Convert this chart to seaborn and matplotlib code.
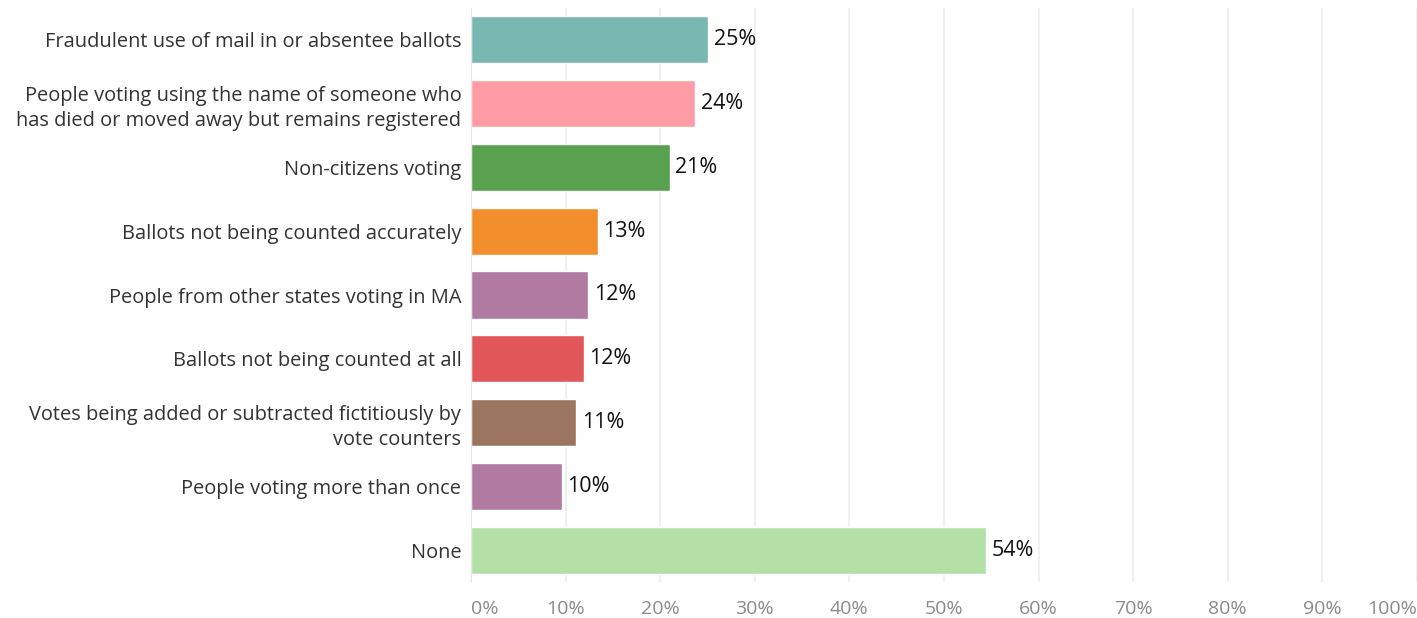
import matplotlib
matplotlib.use("Agg")
import pandas as pd
import matplotlib.pyplot as plt
import seaborn as sns

categories = [
    "Fraudulent use of mail in or absentee ballots",
    "People voting using the name of someone who\nhas died or moved away but remains registered",
    "Non-citizens voting",
    "Ballots not being counted accurately",
    "People from other states voting in MA",
    "Ballots not being counted at all",
    "Votes being added or subtracted fictitiously by\nvote counters",
    "People voting more than once",
    "None",
]
values = [25.1, 23.7, 21.0, 13.4, 12.4, 11.9, 11.1, 9.6, 54.4]
colors = ["#79b7b2", "#ff9da7", "#59a14f", "#f28e2b", "#b07aa1",
          "#e15759", "#9c755f", "#b07aa1", "#b3e0a6"]
ticks = [0, 10, 20, 30, 40, 50, 60, 70, 80, 90, 100]

df = pd.DataFrame({"category": categories, "value": values})

sns.set_style("white")
plt.rcParams["font.family"] = ["Open Sans", "DejaVu Sans"]

fig = plt.figure(figsize=(14.17, 6.18), dpi=100)
ax = fig.add_axes([471 / 1417, 1 - 582 / 618, (1417 - 471) / 1417, 574 / 618])

sns.barplot(data=df, y="category", x="value", hue="category", palette=colors,
            legend=False, width=0.74, saturation=1, ax=ax)

ax.set_xlim(0, (1417 - 471) / 9.5)
ax.set_xticks(ticks)
ax.set_xticklabels([f"{t}%" for t in ticks], color="#8a8a8a", fontsize=14)
tl = ax.get_xticklabels()
tl[0].set_ha("left")
tl[-1].set_ha("right")
ax.tick_params(axis="x", length=0, pad=13)
ax.tick_params(axis="y", length=0, pad=7)
ax.set_yticklabels(categories, color="#333333", fontsize=14.4, linespacing=1.3)
ax.set_xlabel("")
ax.set_ylabel("")
ax.xaxis.grid(True, color="#f0f0f0", linewidth=1.5)
ax.set_axisbelow(True)
for s in ["top", "right", "bottom"]:
    ax.spines[s].set_visible(False)
ax.spines["left"].set_color("#e6e6e6")

for i, v in enumerate(values):
    ax.text(v + 0.6, i, f"{round(v)}%", va="center", ha="left",
            fontsize=15.5, color="#111111")

fig.savefig("out.png", dpi=100)
